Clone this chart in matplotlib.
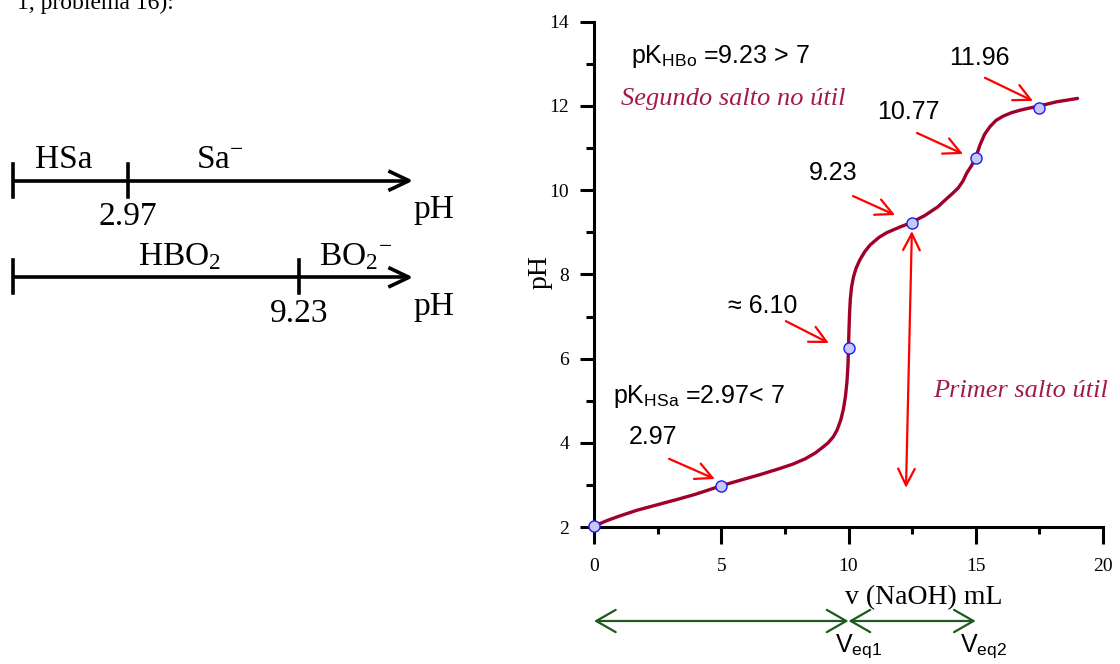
import matplotlib
matplotlib.use('Agg')
import matplotlib.pyplot as plt
import matplotlib.transforms as mtransforms
from matplotlib.ticker import MultipleLocator

plt.rcParams['mathtext.fontset'] = 'custom'
plt.rcParams['mathtext.rm'] = 'Liberation Serif'
plt.rcParams['mathtext.it'] = 'Liberation Serif:italic'
plt.rcParams['mathtext.sf'] = 'Liberation Sans'
plt.rcParams['mathtext.bf'] = 'Liberation Serif:bold'

# ---------------- data ----------------
vol = [0, 0.5, 1, 1.7, 2.5, 3.3, 4, 5, 5.8, 6.5, 7.2, 7.8, 8.3, 8.7, 9.0,
       9.2, 9.4, 9.55, 9.7, 9.8, 9.88, 9.94, 9.98, 10.0, 10.02, 10.04, 10.07,
       10.12, 10.2, 10.3, 10.45, 10.65, 10.85, 11.2, 11.5, 12.0, 12.5, 13.0,
       13.5, 13.86, 14.1, 14.32, 14.5, 14.64, 14.85, 15.0, 15.17, 15.35, 15.56,
       15.8, 16.08, 16.4, 16.74, 17.1, 17.5, 18.18, 19.0]
ph = [2.02, 2.15, 2.26, 2.4, 2.53, 2.66, 2.78, 2.98, 3.12, 3.24, 3.37, 3.49,
      3.62, 3.76, 3.9, 4.0, 4.14, 4.3, 4.55, 4.8, 5.1, 5.45, 5.85, 6.26,
      6.7, 7.05, 7.4, 7.7, 7.95, 8.15, 8.35, 8.55, 8.7, 8.88, 8.99, 9.12,
      9.24, 9.4, 9.6, 9.8, 9.93, 10.06, 10.22, 10.4, 10.6, 10.78, 11.08,
      11.33, 11.51, 11.66, 11.76, 11.84, 11.9, 11.95, 12.0, 12.1, 12.18]

pt_vol = [0, 5, 10, 12.5, 15, 17.5]
pt_ph = [2.02, 2.97, 6.25, 9.23, 10.77, 11.96]

# value labels: (text, text x, text y, arrow tail x, tail y, head x, head y)
value_labels = [
    ("2.97", 2.30, 4.13, 2.95, 3.62, 4.75, 3.14),
    ("\u2248 6.10", 6.64, 7.25, 7.54, 6.89, 9.23, 6.37),
    ("9.23", 9.39, 10.41, 10.18, 9.86, 11.83, 9.41),
    ("10.77", 12.34, 11.86, 12.69, 11.36, 14.50, 10.86),
    ("11.96", 15.13, 13.14, 15.36, 12.67, 17.25, 12.12),
]

pka_hsa = 2.97
pka_hbo = 9.23
veq1 = 10
veq2 = 15

x_ticks = [0, 5, 10, 15, 20]
y_ticks = [2, 4, 6, 8, 10, 12, 14]

curve_color = '#a0002a'
note_color = '#a31b44'
green = '#1e5a1e'

W, H = 1120, 664
fig = plt.figure(figsize=(W / 100, H / 100), dpi=100)

# overlay axes in pixel coordinates
ax0 = fig.add_axes([0, 0, 1, 1])
ax0.set_xlim(0, W)
ax0.set_ylim(H, 0)
ax0.axis('off')

serif = 'Liberation Serif'
sans = 'Liberation Sans'

# ---------------- left: predominance diagrams ----------------
ax0.text(17, 3, "1, problema 16):", fontsize=17, family=serif, ha='left', va='center')

def px_of_ph(v):
    return 46.3 + 27.4 * v

x_left = 12.7
x_tip = 409
lw_d = 2.6

def diagram(y, pka, tick_label, left_lbl, right_lbl, left_lbl_x, right_lbl_x):
    ax0.plot([x_left, x_tip], [y, y], color='black', lw=lw_d, solid_capstyle='butt')
    ax0.plot([x_tip - 19, x_tip, x_tip - 19], [y - 9, y, y + 9], color='black', lw=lw_d)
    ax0.plot([x_left, x_left], [y - 17, y + 16], color='black', lw=lw_d)
    xt = px_of_ph(pka)
    ax0.plot([xt, xt], [y - 17, y + 16], color='black', lw=lw_d)
    ax0.text(xt, y + 36, tick_label, fontsize=24, family=serif, ha='center', va='center')
    ax0.text(left_lbl_x, y - 21, left_lbl, fontsize=24, family=serif, ha='center', va='center')
    ax0.text(right_lbl_x, y - 21, right_lbl, fontsize=24, family=serif, ha='center', va='center')
    ax0.text(434, y + 29, "pH", fontsize=24, family=serif, ha='center', va='center')

diagram(180.7, pka_hsa, "2.97", "HSa", "Sa$^{\u2212}$", 64, 220)
diagram(277.3, pka_hbo, "9.23", "HBO$_{2}$", "BO$_{2}{}^{\u2212}$", 180, 356)

# ---------------- right: titration curve ----------------
x0p, y2p = 594, 527
pxx = 25.45
pxy = 42.1
ax = fig.add_axes([x0p / W, 1 - y2p / H, 20 * pxx / W, 12 * pxy / H])
ax.patch.set_alpha(0)
ax.set_xlim(0, 20)
ax.set_ylim(2, 14)
for s in ['top', 'right']:
    ax.spines[s].set_visible(False)
for s in ['left', 'bottom']:
    ax.spines[s].set_linewidth(2.2)
ax.set_xticks(x_ticks)
ax.set_yticks(y_ticks)
ax.xaxis.set_minor_locator(MultipleLocator(2.5))
ax.yaxis.set_minor_locator(MultipleLocator(1))
ax.tick_params(axis='x', which='major', direction='out', length=12, width=2.2, pad=10)
ax.tick_params(axis='x', which='minor', direction='out', length=5, width=2.2)
ax.tick_params(axis='y', which='major', direction='out', length=10, width=2.2, pad=8)
ax.tick_params(axis='y', which='minor', direction='out', length=6, width=2.2)
for lab in ax.get_xticklabels() + ax.get_yticklabels():
    lab.set_fontfamily(serif)
    lab.set_fontsize(14)

ax.plot(vol, ph, color=curve_color, lw=2.4, zorder=3, solid_capstyle='round',
        solid_joinstyle='round')
ax.plot(pt_vol, pt_ph, 'o', ms=8, mfc='#c8c8f5', mec='#1a1aff', mew=1.0, zorder=4, clip_on=False)

for txt, tx, ty, ax_, ay_, hx, hy in value_labels:
    ax.text(tx, ty, txt, fontsize=18, family=sans, ha='center', va='center')
    ax.annotate('', xy=(hx, hy), xytext=(ax_, ay_),
                arrowprops=dict(arrowstyle='->,head_length=0.6,head_width=0.3',
                                color='red', lw=1.6, mutation_scale=20,
                                shrinkA=0, shrinkB=0))

# vertical double arrow
ax.annotate('', xy=(12.26, 2.93), xytext=(12.49, 9.03),
            arrowprops=dict(arrowstyle='<->,head_length=0.6,head_width=0.3',
                            color='red', lw=1.6, mutation_scale=20,
                            shrinkA=0, shrinkB=0))

ax.text(1.45, 13.17, "pK$_{\\mathsf{HBo}}$ =9.23 > 7", fontsize=18, family=sans,
        ha='left', va='center')
ax.text(0.75, 5.11, "pK$_{\\mathsf{HSa}}$ =2.97< 7", fontsize=18, family=sans,
        ha='left', va='center')
ax.text(1.06, 12.17, "Segundo salto no \u00fatil", fontsize=19, family=serif,
        style='italic', color=note_color, ha='left', va='center')
ax.text(13.32, 5.23, "Primer salto \u00fatil", fontsize=19, family=serif,
        style='italic', color=note_color, ha='left', va='center')

# axis labels
blend = mtransforms.blended_transform_factory(ax.transData, ax0.transData)
ax.text(12.97, 598, "v (NaOH) mL", fontsize=20, family=serif, ha='center', va='center',
        transform=blend, clip_on=False)
ax0.text(540, 272, "pH", fontsize=20, family=serif, rotation=90, ha='center', va='center')

# equivalence volume arrows
for a, b in [(0, veq1), (veq1, veq2)]:
    ax.annotate('', xy=(b, 621), xytext=(a, 621), xycoords=blend, textcoords=blend,
                annotation_clip=False,
                arrowprops=dict(arrowstyle='<->,head_length=0.7,head_width=0.4',
                                color=green, lw=1.6, mutation_scale=20,
                                shrinkA=0, shrinkB=0))
ax.text(veq1 + 0.41, 647, "V$_{\\mathsf{eq1}}$", fontsize=18, family=sans, ha='center',
        va='center', transform=blend, clip_on=False)
ax.text(veq2 + 0.32, 647, "V$_{\\mathsf{eq2}}$", fontsize=18, family=sans, ha='center',
        va='center', transform=blend, clip_on=False)

fig.savefig('out.png', dpi=100)
